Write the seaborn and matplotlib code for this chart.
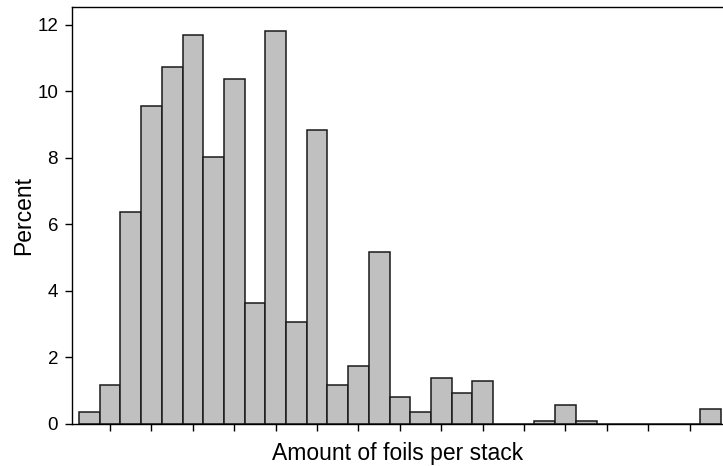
import numpy as np
import pandas as pd
import matplotlib
matplotlib.use("Agg")
import matplotlib.pyplot as plt
import seaborn as sns

# bin index (foils per stack, binned) and percent of stacks per bin
bins = list(range(31))
percent = [0.35, 1.18, 6.39, 9.55, 10.75, 11.71, 8.04, 10.38, 3.65, 11.83,
           3.07, 8.85, 1.18, 1.75, 5.18, 0.81, 0.35, 1.39, 0.93, 1.30,
           0.0, 0.0, 0.10, 0.56, 0.10, 0.0, 0.0, 0.0, 0.0, 0.0, 0.44]
y_ticks = [0, 2, 4, 6, 8, 10, 12]

sns.set_style("ticks", {"text.color": "black", "axes.labelcolor": "black",
                        "xtick.color": "black", "ytick.color": "black",
                        "axes.edgecolor": "black"})
plt.rcParams['font.family'] = ['Liberation Sans', 'DejaVu Sans']

df = pd.DataFrame({'bin': bins, 'percent': percent})

fig = plt.figure(figsize=(7.23, 4.66), dpi=100)
ax = fig.add_axes([72 / 723, 1 - 424 / 466, 1 - 72 / 723, (424 - 7) / 466])

# histogram with precomputed percentages as weights
sns.histplot(data=df, x='bin', weights='percent', discrete=True, ax=ax,
             color='#c0c0c0', edgecolor='#1a1a1a', linewidth=1.1, alpha=1)

ax.set_xlim(-0.84, 30.61)
ax.set_ylim(0, 12.54)
ax.set_xticks([b for b in bins if b % 2 == 1])
ax.set_xticklabels([])
ax.set_yticks(y_ticks)
ax.set_yticklabels([str(t) for t in y_ticks], fontsize=13.5, color='black')
ax.tick_params(axis='both', direction='out', length=5, width=1, color='black', pad=5)

ax.set_xlabel("Amount of foils per stack", fontsize=16.5, color='black')
ax.set_ylabel("Percent", fontsize=16.5, color='black')
# place axis labels like the reference
ax.xaxis.set_label_coords(0.5, -0.042)
ax.yaxis.set_label_coords(-0.057, 0.5)

ax.spines['right'].set_visible(False)
for s in ['left', 'bottom', 'top']:
    ax.spines[s].set_color('black')
    ax.spines[s].set_linewidth(1)

fig.savefig("out.png", dpi=100)
